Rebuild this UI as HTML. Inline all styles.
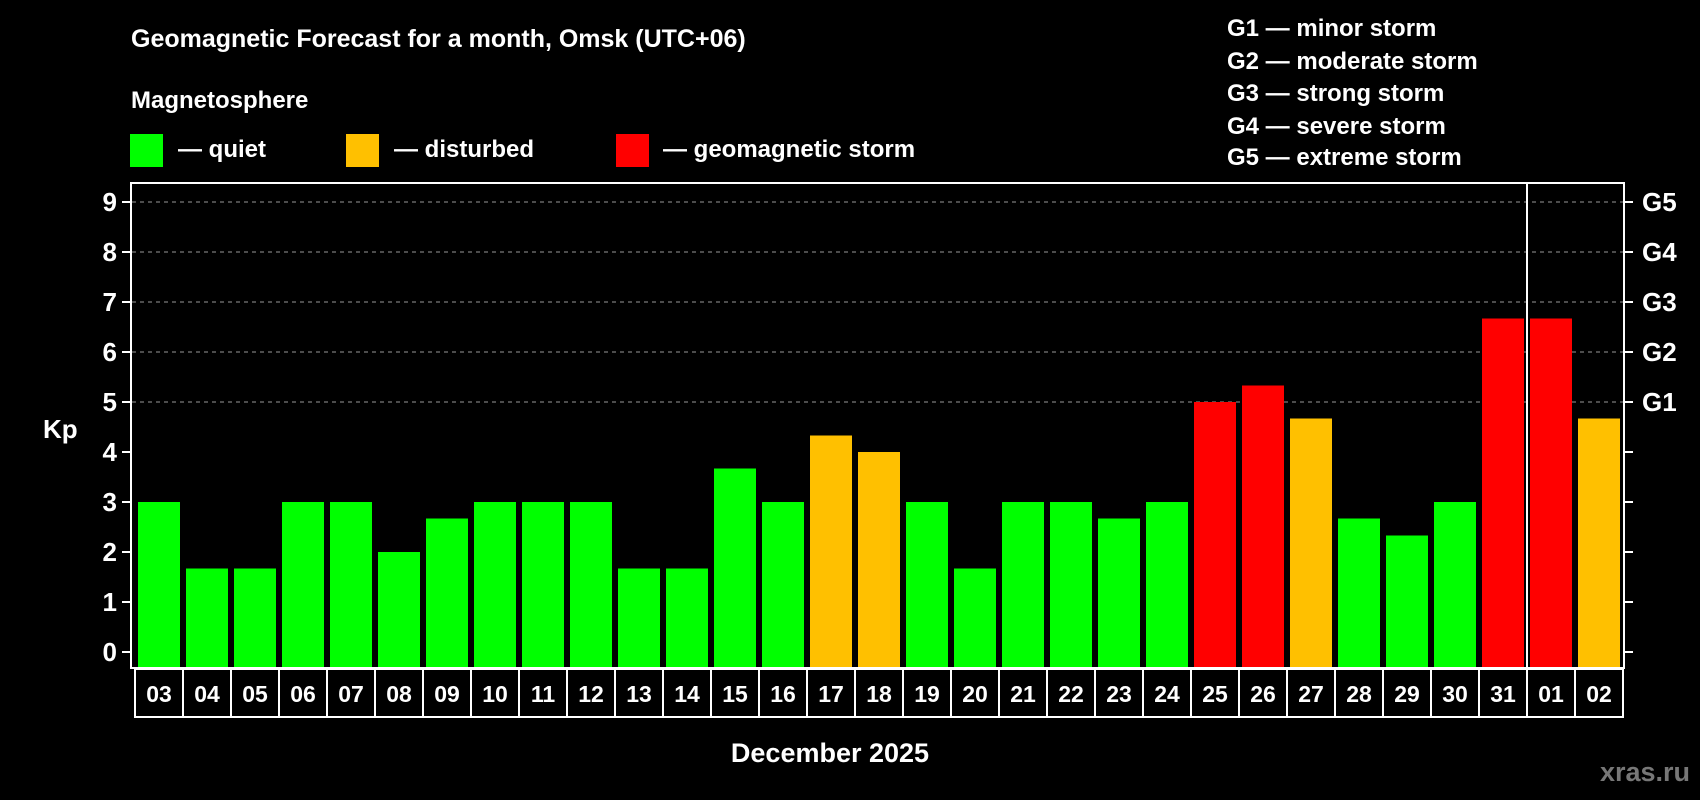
<!DOCTYPE html>
<html><head><meta charset="utf-8"><style>
html,body{margin:0;padding:0;background:#000;}
svg{display:block;font-family:"Liberation Sans",Arial,sans-serif;font-weight:bold;}
</style></head><body>
<svg width="1700" height="800" viewBox="0 0 1700 800">
<rect x="0" y="0" width="1700" height="800" fill="#000"/>
<text x="131" y="47" fill="#fff" font-size="25">Geomagnetic Forecast for a month, Omsk (UTC+06)</text>
<text x="131" y="108" fill="#fff" font-size="24">Magnetosphere</text>
<g><rect x="130" y="134" width="33" height="33" fill="#00ff00"/><text x="178" y="157" fill="#fff" font-size="24">— quiet</text></g>
<g><rect x="346" y="134" width="33" height="33" fill="#ffc000"/><text x="394" y="157" fill="#fff" font-size="24">— disturbed</text></g>
<g><rect x="616" y="134" width="33" height="33" fill="#ff0000"/><text x="663" y="157" fill="#fff" font-size="24">— geomagnetic storm</text></g>
<g fill="#fff" font-size="24">
<text x="1227" y="36">G1 — minor storm</text>
<text x="1227" y="69">G2 — moderate storm</text>
<text x="1227" y="101">G3 — strong storm</text>
<text x="1227" y="134">G4 — severe storm</text>
<text x="1227" y="165">G5 — extreme storm</text>
</g>
<g id="grid"></g>
<g id="bars"></g>
<rect x="131" y="183" width="1493" height="485" fill="none" stroke="#fff" stroke-width="2"/>
<line x1="1527" y1="183" x2="1527" y2="668" stroke="#fff" stroke-width="2"/>
<g id="axes"></g>
<text x="43" y="438" fill="#fff" font-size="26">Kp</text>
<text x="830" y="762" fill="#fff" font-size="27" text-anchor="middle">December 2025</text>
<text x="1690" y="781" fill="#777" font-size="27" text-anchor="end">xras.ru</text>
</svg>
<script>
const days = ["03","04","05","06","07","08","09","10","11","12","13","14","15","16","17","18","19","20","21","22","23","24","25","26","27","28","29","30","31","01","02"];
const kp = [3,1.67,1.67,3,3,2,2.67,3,3,3,1.67,1.67,3.67,3,4.33,4,3,1.67,3,3,2.67,3,5,5.33,4.67,2.67,2.33,3,6.67,6.67,4.67];
const yTicks = [0,1,2,3,4,5,6,7,8,9];
const gLabels = ["G1","G2","G3","G4","G5"];
const gLevels = [5,6,7,8,9];
const NS="http://www.w3.org/2000/svg";
const y = v => 652 - v*50;
const x = i => 135 + i*48;
function mk(tag, attrs, parent){const e=document.createElementNS(NS,tag);for(const k in attrs)e.setAttribute(k,attrs[k]);parent.appendChild(e);return e;}
const grid=document.getElementById('grid'), bars=document.getElementById('bars'), axes=document.getElementById('axes');
gLevels.forEach((v)=>{
  const l=mk('line',{x1:132,x2:1623,y1:y(v),y2:y(v),stroke:'#999','stroke-width':1,'stroke-dasharray':'4,4'},grid);
  
  
});
yTicks.forEach(v=>{
  mk('line',{x1:122,x2:131,y1:y(v),y2:y(v),stroke:'#fff','stroke-width':2},axes);
  mk('line',{x1:1624,x2:1633,y1:y(v),y2:y(v),stroke:'#fff','stroke-width':2},axes);
  const t=mk('text',{x:117,y:y(v)+9,fill:'#fff','font-size':26,'text-anchor':'end'},axes);
  t.textContent=v;
  
  
});
gLabels.forEach((g,i)=>{
  const t=mk('text',{x:1642,y:y(gLevels[i])+9,fill:'#fff','font-size':26},axes);
  t.textContent=g;
  
  
});
kp.forEach((v,i)=>{
  const c = v>=5?'#ff0000':(v>=4?'#ffc000':'#00ff00');
  const r=mk('rect',{x:x(i)+3,y:y(v),width:42,height:667-y(v),fill:c},bars);
  
  
  const cell=mk('rect',{x:x(i),y:669,width:48,height:48,fill:'none',stroke:'#fff','stroke-width':2},axes);
  
  
  const t=mk('text',{x:x(i)+24,y:702,fill:'#fff','font-size':23,'text-anchor':'middle'},axes);
  t.textContent=days[i];
  
  
});
</script>
</body></html>
